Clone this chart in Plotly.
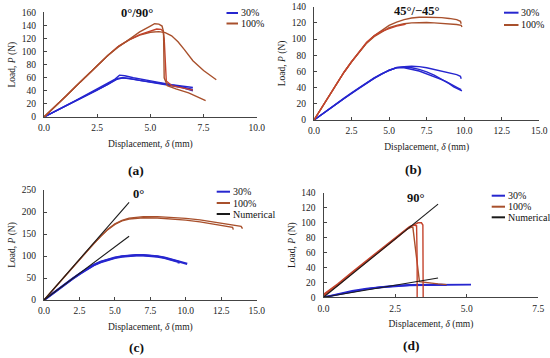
import plotly.graph_objects as go

W, H = 550, 358
SERIF = "Liberation Serif, Times New Roman, serif"
BLUE = "#2626cf"
BROWN = "#a8502c"
RED = "#c4432c"
BLACK = "#1a1a1a"

# ---------------- Panel (a) 0°/90° ----------------
a30_1_x = [0, 0.5, 1, 1.5, 2, 2.5, 3, 3.3, 3.55, 3.8, 4.2, 4.8, 5.4, 6.0, 6.5, 7.0]
a30_1_y = [0, 8, 17, 25.5, 34, 42.5, 51, 57, 64, 63, 60, 56, 53, 49.5, 47, 45]
a30_2_x = [0, 0.5, 1, 1.5, 2, 2.5, 3, 3.4, 3.7, 4.0, 4.5, 5.0, 5.5, 6.0, 6.5, 7.0]
a30_2_y = [0, 8, 17, 25, 33, 41, 50, 57, 60, 59, 56, 54, 51, 49, 46, 42]
a30_3_x = [0, 1, 2, 3, 3.45, 3.7, 4.2, 4.8, 5.4, 6.0, 6.5, 7.0]
a30_3_y = [0, 16.5, 33, 50, 59, 60, 57.5, 54.5, 51, 48, 45, 40]

a100_1_x = [0, 0.5, 1, 1.5, 2, 2.5, 3, 3.5, 4, 4.5, 5, 5.2, 5.4, 5.55, 5.62, 5.65, 5.8, 6.2, 6.8, 7.2, 7.6]
a100_1_y = [0, 15, 31, 47, 63, 79, 94, 107, 119, 130, 139, 142.5, 142, 139, 130, 60, 48, 43, 37, 31, 25]
a100_2_x = [0, 0.5, 1, 1.5, 2, 2.5, 3, 3.5, 4, 4.5, 5, 5.3, 5.5, 5.6, 5.65, 5.75, 6.0, 6.5, 7.0]
a100_2_y = [0, 15, 31, 47, 63, 79, 94, 108, 118, 126, 132, 134.5, 134, 131, 120, 55, 48, 44, 41]
a100_3_x = [0, 0.5, 1, 1.5, 2, 2.5, 3, 3.5, 4, 4.5, 5, 5.4, 5.7, 6.0, 6.3, 6.6, 7.0, 7.5, 8.1]
a100_3_y = [0, 15, 31, 47, 63, 79, 94, 108, 118, 125, 129.5, 130.5, 129, 124, 115, 103, 86, 71, 57]

# ---------------- Panel (b) 45°/-45° ----------------
b30_1_x = [0, 0.5, 1, 1.5, 2, 2.5, 3, 3.5, 4, 4.5, 5, 5.5, 6, 6.5, 7, 7.5, 8, 8.5, 9, 9.5, 9.75, 9.8]
b30_1_y = [0, 7, 14, 20.5, 27, 33.5, 40, 46, 52, 57, 61.5, 64.5, 66, 66.5, 66, 64.5, 62.5, 60.5, 58.5, 56, 54, 51]
b30_2_x = [0, 0.5, 1, 1.5, 2, 2.5, 3, 3.5, 4, 4.5, 5, 5.5, 6, 6.5, 7, 7.5, 8, 8.5, 9, 9.3, 9.6, 9.85]
b30_2_y = [0, 7, 13.5, 20, 26.5, 33, 39.5, 45.5, 51.5, 57, 61.5, 65, 65.5, 64.5, 62.5, 59.5, 55.5, 50.5, 45, 41, 38.5, 36]
b30_3_x = [0, 1, 2, 3, 4, 5, 5.5, 6, 7, 8, 8.5, 8.8, 9.2, 9.6, 9.8]
b30_3_y = [0, 13.5, 26.5, 39.5, 51.5, 61.5, 64.5, 64.5, 60.5, 54, 50, 47.5, 43, 39.5, 37.5]

b100_1_x = [0, 1, 2, 2.5, 3, 3.5, 4, 4.5, 5, 5.5, 6, 6.5, 7, 7.5, 8, 8.5, 9, 9.5, 9.75, 9.8]
b100_1_y = [0, 30, 59, 72, 84, 95, 104, 111, 117, 121, 124, 126, 127, 127, 127, 126.5, 125.5, 124, 122, 119]
b100_2_x = [0, 1, 2, 2.5, 3, 3.5, 4, 4.5, 5, 5.5, 6, 6.5, 7, 7.5, 8, 8.5, 9, 9.5, 9.8, 9.85]
b100_2_y = [0, 30, 59, 72, 84, 95, 103, 109, 114, 117, 119, 120, 120.5, 120.5, 120, 119.5, 119, 118, 117, 115]
b100_3_x = [0, 1, 2, 2.5, 3, 3.5, 4, 4.5, 5, 5.5, 6, 6.1]
b100_3_y = [0, 30, 59, 72, 84, 96, 104, 109.5, 113, 116, 118, 118.5]

# ---------------- Panel (c) 0° ----------------
c30_1_x = [0, 0.5, 1, 1.5, 2, 2.5, 3, 3.5, 4, 4.5, 5, 5.5, 6, 6.5, 7, 7.5, 8, 8.5, 9, 9.5, 9.5]
c30_1_y = [0, 12.5, 25, 36.5, 48, 59, 70, 79, 86, 91.5, 95.5, 98.5, 100.5, 101.5, 101.5, 100.5, 98.5, 95.5, 91, 86.5, 83]
c30_2_x = [0, 1, 2, 3, 3.5, 4, 4.5, 5, 5.5, 6, 6.5, 7, 7.5, 8, 8.5, 9, 9.5, 10.1]
c30_2_y = [0, 25, 48, 70, 79.5, 87, 92.5, 96.5, 99.5, 101, 102, 102, 101, 99.5, 96.5, 92.5, 88, 82]

c100_1_x = [0, 0.5, 1, 1.5, 2, 2.5, 3, 3.5, 4, 4.5, 5, 5.5, 6, 6.5, 7, 8, 9, 10, 11, 12, 13, 13.3, 13.35]
c100_1_y = [0, 18.5, 37, 55.5, 74, 92, 110, 128, 145, 160, 172, 180, 184, 186, 187, 186.5, 184.5, 181.5, 177.5, 172.5, 167, 165, 160]
c100_2_x = [0, 0.5, 1, 1.5, 2, 2.5, 3, 3.5, 4, 4.5, 5, 5.5, 6, 6.5, 7, 8, 9, 10, 11, 12, 13, 13.9, 14.0]
c100_2_y = [0, 18.5, 37, 55.5, 74, 92, 110, 128, 145, 161, 173, 181, 186, 188.5, 189.5, 189.5, 188, 185.5, 182, 177.5, 172.5, 167.5, 162]

cnum_x = [0, 6.0]
cnum_hi_y = [0, 222]
cnum_lo_y = [0, 145]

# ---------------- Panel (d) 90° ----------------
d30_1_x = [0, 0.5, 1, 1.5, 2, 2.5, 3, 3.5, 4, 4.3]
d30_1_y = [0, 4.5, 8.5, 11.5, 14, 15.5, 16.5, 17, 17, 16.5]
d30_2_x = [0, 0.5, 1, 1.5, 2, 2.5, 3, 3.5, 4, 4.5, 5, 5.15]
d30_2_y = [0, 4, 8, 11, 13.5, 15, 16, 16.5, 16.8, 16.5, 16.8, 17]

d100_1_x = [0, 0.5, 1, 1.5, 2, 2.5, 2.9, 3.05, 3.12, 3.35, 3.7, 4.0, 4.3]
d100_1_y = [3, 17, 33, 48, 63, 79, 91, 94, 94, 21, 19, 18, 17]
d100_2_x = [0, 0.5, 1, 1.5, 2, 2.5, 3, 3.15, 3.25, 3.27, 3.27]
d100_2_y = [4, 18, 34, 49, 64, 80, 95, 97, 96, 50, 0]
d100_3_x = [0, 0.5, 1, 1.5, 2, 2.5, 3, 3.2, 3.3, 3.42, 3.47, 3.48]
d100_3_y = [2, 16, 32, 47, 62, 78, 94, 98, 100, 100, 97, 0]

dnum_x = [0, 4.0]
dnum_hi_y = [0, 125]
dnum_lo_y = [0, 26]


def px(x):
    return x / W


def py(y):
    return 1 - y / H


fig = go.Figure()


def add(x, y, color, ax, width=1.4):
    xa = "x" if ax == 1 else f"x{ax}"
    ya = "y" if ax == 1 else f"y{ax}"
    fig.add_trace(go.Scatter(x=x, y=y, mode="lines", xaxis=xa, yaxis=ya,
                             line=dict(color=color, width=width),
                             showlegend=False, hoverinfo="skip"))


# panel a
for xs, ys in [(a30_1_x, a30_1_y), (a30_2_x, a30_2_y), (a30_3_x, a30_3_y)]:
    add(xs, ys, BLUE, 1)
add(a100_3_x, a100_3_y, BROWN, 1)
add(a100_2_x, a100_2_y, RED, 1)
add(a100_1_x, a100_1_y, BROWN, 1)
# panel b
for xs, ys in [(b30_1_x, b30_1_y), (b30_2_x, b30_2_y), (b30_3_x, b30_3_y)]:
    add(xs, ys, BLUE, 2)
add(b100_1_x, b100_1_y, BROWN, 2)
add(b100_2_x, b100_2_y, BROWN, 2)
add(b100_3_x, b100_3_y, RED, 2)
# panel c
add(c30_1_x, c30_1_y, BLUE, 3, 2.2)
add(c30_2_x, c30_2_y, BLUE, 3, 2.2)
add(c100_1_x, c100_1_y, BROWN, 3)
add(c100_2_x, c100_2_y, BROWN, 3)
add(cnum_x, cnum_hi_y, BLACK, 3, 1.1)
add(cnum_x, cnum_lo_y, BLACK, 3, 1.1)
# panel d
add(d30_1_x, d30_1_y, BLUE, 4, 1.8)
add(d30_2_x, d30_2_y, BLUE, 4, 1.8)
add(d100_1_x, d100_1_y, BROWN, 4)
add(d100_2_x, d100_2_y, RED, 4)
add(d100_3_x, d100_3_y, RED, 4)
add(dnum_x, dnum_hi_y, BLACK, 4, 1.1)
add(dnum_x, dnum_lo_y, BLACK, 4, 1.1)

tickfont = dict(family=SERIF, size=9.5, color="#222")
titlefont = dict(family=SERIF, size=9.5, color="#222")


def xax(dom, rng, anchor):
    return dict(domain=dom, range=rng, anchor=anchor, dtick=2.5, tick0=0,
                tickformat=".1f", showgrid=False, zeroline=False,
                showline=True, linecolor="#444", linewidth=1,
                ticks="inside", ticklen=3, tickcolor="#444",
                tickfont=tickfont, ticklabelstandoff=2, automargin=False,
                title=dict(text="Displacement, <i>δ</i> (mm)", font=titlefont, standoff=7))


def yax(dom, rng, dt, anchor):
    return dict(domain=dom, range=rng, anchor=anchor, dtick=dt, tick0=0,
                showgrid=False, zeroline=False,
                showline=True, linecolor="#444", linewidth=1,
                ticks="inside", ticklen=3, tickcolor="#444",
                tickfont=tickfont, ticklabelstandoff=5, automargin=False,
                title=dict(text="Load, <i>P</i> (N)", font=titlefont, standoff=4))


fig.update_layout(
    width=W, height=H,
    margin=dict(l=0, r=0, t=0, b=0),
    paper_bgcolor="white", plot_bgcolor="white",
    showlegend=False,
    xaxis=xax([px(44), px(256.7)], [0, 10], "y"),
    yaxis=yax([py(117), py(12.3)], [0, 160], 20, "x"),
    xaxis2=xax([px(314), px(539.3)], [0, 15], "y2"),
    yaxis2=yax([py(120), py(6.7)], [0, 140], 20, "x2"),
    xaxis3=xax([px(44), px(256.7)], [0, 15], "y3"),
    yaxis3=yax([py(300), py(190)], [0, 250], 50, "x3"),
    xaxis4=xax([px(323.5), px(538.3)], [0, 7.5], "y4"),
    yaxis4=yax([py(297.3), py(193)], [0, 140], 20, "x4"),
)

annotations = []
shapes = []


def text(x, y, s, size, bold=False, xanchor="center"):
    annotations.append(dict(x=px(x), y=py(y), xref="paper", yref="paper",
                            text=f"<b>{s}</b>" if bold else s, showarrow=False,
                            xanchor=xanchor, yanchor="middle",
                            font=dict(family=SERIF, size=size, color="#111")))


# panel titles
text(136.7, 12.7, "0°/90°", 12.5, True)
text(416.7, 10.7, "45°/−45°", 12.5, True)
text(138.3, 194.3, "0°", 12.5, True)
text(415.7, 198.3, "90°", 12.5, True)
# panel labels
text(135.5, 170, "(a)", 13.5, True)
text(413.3, 169, "(b)", 13.5, True)
text(136.7, 347, "(c)", 13.5, True)
text(411.7, 345, "(d)", 13.5, True)


# manual legends
def legend(x0, x1, rows):
    for yy, color, label in rows:
        shapes.append(dict(type="line", xref="paper", yref="paper",
                           x0=px(x0), x1=px(x1), y0=py(yy), y1=py(yy),
                           line=dict(color=color, width=2)))
        text(x1 + 0.5, yy, label, 10, False, "left")


legend(226.5, 238, [(13, BLUE, "30%"), (23.5, BROWN, "100%")])
legend(504, 518.5, [(12.7, BLUE, "30%"), (25, BROWN, "100%")])
legend(216.7, 230, [(191.7, BLUE, "30%"), (203, BROWN, "100%"), (214, BLACK, "Numerical")])
legend(491.7, 505, [(195.7, BLUE, "30%"), (206.7, BROWN, "100%"), (217.3, BLACK, "Numerical")])

fig.update_layout(annotations=annotations, shapes=shapes)
fig.write_html(
    "out.html",
    config={"displayModeBar": False},
    post_script="document.documentElement.style.margin='0';"
                "document.body.style.margin='0';document.body.style.padding='0';"
                "document.body.style.overflow='hidden';",
)
